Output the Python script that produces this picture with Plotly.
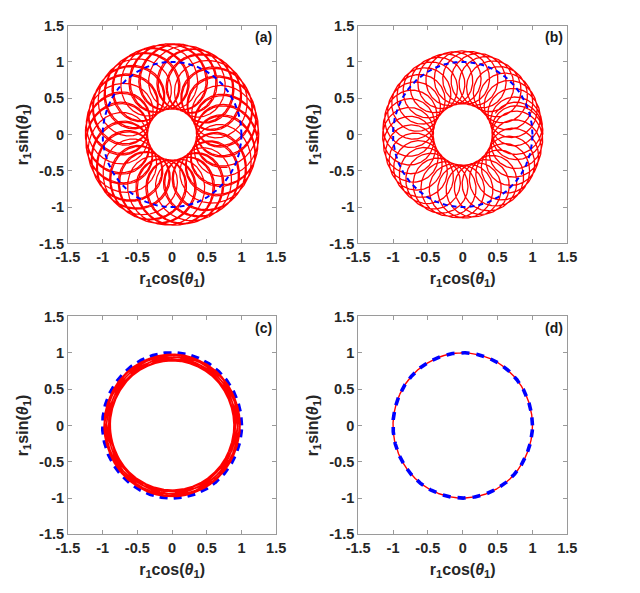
import numpy as np
import plotly.graph_objects as go

# ---- data ----
panel_labels = ["(a)", "(b)", "(c)", "(d)"]
orbit_radius = [0.80, 0.785, 0.935, 1.0]     # mean radius of red trajectory
loop_radius = [0.45, 0.365, 0.045, 0.0]      # epicycle radius
loop_freq = [12.35, 40.6, 0.11, 0.0]         # epicycle frequency ratio
n_turns = [5, 1.02, 10, 1]                   # revolutions drawn
ref_radius = [1.0, 1.0, 1.0, 1.0]            # blue dashed reference circle
tick_vals = [-1.5, -1, -0.5, 0, 0.5, 1, 1.5]
tick_text = ["-1.5", "-1", "-0.5", "0", "0.5", "1", "1.5"]

# ---- layout geometry ----
W, H = 640, 593
x_dom = [[57 / W, 273 / W], [358 / W, 575 / W], [57 / W, 273 / W], [358 / W, 575 / W]]
y_dom = [[1 - 242 / H, 1 - 18 / H], [1 - 242 / H, 1 - 18 / H],
         [1 - 541 / H, 1 - 317 / H], [1 - 541 / H, 1 - 317 / H]]

fig = go.Figure()
FONT = "Liberation Sans, Arial, sans-serif"
red_w = [1.25, 1.3, 1.6, 1.4]
blue_w = [2.0, 2.0, 3.6, 3.6]
blue_dash = ["5px,4px", "5px,4px", "8px,6px", "8px,7px"]
red_on_top = [False, False, True, False]

for i in range(4):
    ax = "" if i == 0 else str(i + 1)
    t = np.linspace(0, 2 * np.pi * n_turns[i], int(8000 * n_turns[i]))
    z = orbit_radius[i] * np.exp(1j * t) + loop_radius[i] * np.exp(1j * loop_freq[i] * t)
    red = go.Scatter(x=z.real, y=z.imag, mode="lines",
                     line=dict(color="#ff0000", width=red_w[i]),
                     xaxis="x" + ax, yaxis="y" + ax, showlegend=False, hoverinfo="skip")
    tc = np.linspace(0, 2 * np.pi, 721)
    blue = go.Scatter(x=ref_radius[i] * np.cos(tc), y=ref_radius[i] * np.sin(tc),
                      mode="lines",
                      line=dict(color="#0000ff", width=blue_w[i], dash=blue_dash[i]),
                      xaxis="x" + ax, yaxis="y" + ax, showlegend=False, hoverinfo="skip")
    if red_on_top[i]:
        fig.add_trace(blue)
        fig.add_trace(red)
    else:
        fig.add_trace(red)
        fig.add_trace(blue)
    common = dict(range=[-1.5, 1.5], tickvals=tick_vals, ticktext=tick_text,
                  ticks="inside", ticklen=4, tickcolor="#9a9a9a",
                  showline=True, linecolor="#9a9a9a", linewidth=1, mirror="allticks",
                  showgrid=False, zeroline=False,
                  tickfont=dict(family=FONT, size=14.5, color="#262626", weight="bold"))
    fig.update_layout(**{
        "xaxis" + ax: dict(domain=x_dom[i], anchor="y" + ax,
                           title=dict(text="r<sub>1</sub>cos(<i>θ</i><sub>1</sub>)",
                                      font=dict(family=FONT, size=16, color="#262626", weight="bold"),
                                      standoff=8),
                           **common),
        "yaxis" + ax: dict(domain=y_dom[i], anchor="x" + ax,
                           title=dict(text="r<sub>1</sub>sin(<i>θ</i><sub>1</sub>)",
                                      font=dict(family=FONT, size=16, color="#262626", weight="bold"),
                                      standoff=6),
                           **common),
    })
    fig.add_annotation(text=panel_labels[i], x=x_dom[i][1] - 2 / W, y=y_dom[i][1] - 2 / H,
                       xref="paper", yref="paper", xanchor="right", yanchor="top",
                       showarrow=False,
                       font=dict(family=FONT, size=14, color="#1a1a1a", weight="bold"))

fig.update_layout(width=W, height=H, margin=dict(l=0, r=0, t=0, b=0),
                  paper_bgcolor="white", plot_bgcolor="white")
fig.write_html("out.html")
